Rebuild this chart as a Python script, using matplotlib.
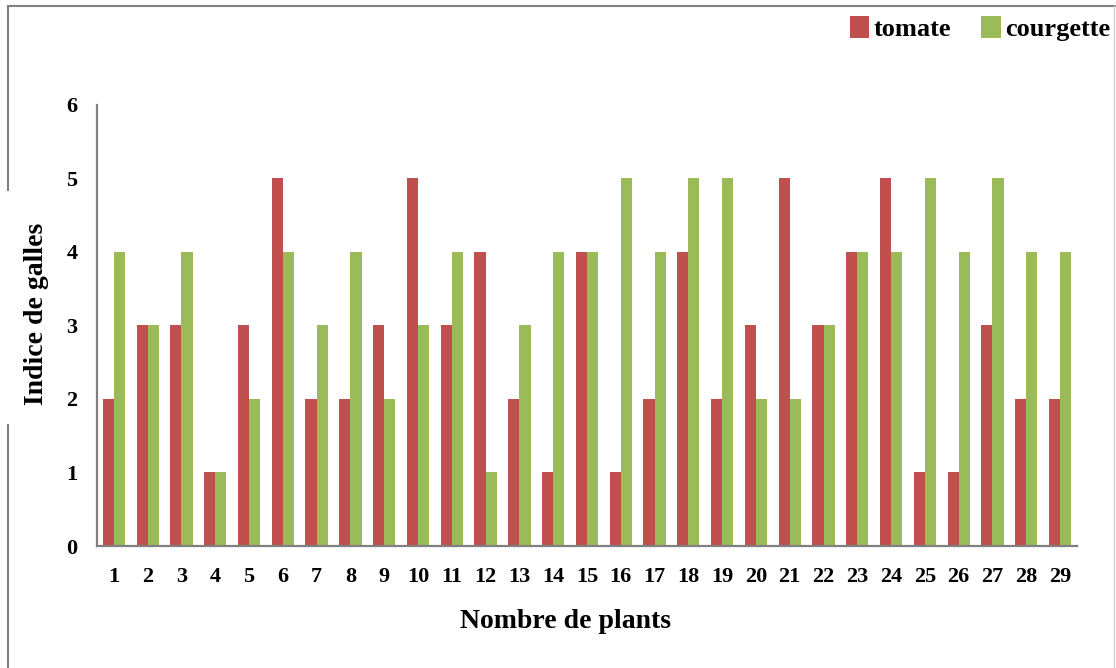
import matplotlib
matplotlib.use('Agg')

import matplotlib.pyplot as plt
from matplotlib.lines import Line2D
import numpy as np

# data
plants = list(range(1, 30))
tomate = [2, 3, 3, 1, 3, 5, 2, 2, 3, 5, 3, 4, 2, 1, 4, 1, 2, 4, 2, 3, 5, 3, 4, 5, 1, 1, 3, 2, 2]
courgette = [4, 3, 4, 1, 2, 4, 3, 4, 2, 3, 4, 1, 3, 4, 4, 5, 4, 5, 5, 2, 2, 3, 4, 4, 5, 4, 5, 4, 4]
y_ticks = [0, 1, 2, 3, 4, 5, 6]

RED = "#C0504D"
GREEN = "#9BBB59"
AXIS = "#808080"

plt.rcParams['font.family'] = ['Liberation Serif', 'DejaVu Serif']

fig = plt.figure(figsize=(11.16, 6.68), dpi=100)
ax = fig.add_axes([0.0869, 0.1826, 0.8781, 0.6604])

x = np.arange(len(plants))
w = 0.33
ax.bar(x - w / 2, tomate, width=w, color=RED, label="tomate")
ax.bar(x + w / 2, courgette, width=w, color=GREEN, label="courgette")

ax.set_xlim(-0.5, len(plants) - 0.5)
ax.set_ylim(0, 6)
ax.set_yticks(y_ticks)
ax.set_xticks(x)
ax.set_xticklabels([str(p) for p in plants])
ax.tick_params(length=0, labelsize=16)
ax.tick_params(axis='y', pad=14)
ax.tick_params(axis='x', pad=15)
for lbl in ax.get_xticklabels() + ax.get_yticklabels():
    lbl.set_fontweight("bold")

for side in ("top", "right"):
    ax.spines[side].set_visible(False)
for side in ("left", "bottom"):
    ax.spines[side].set_color(AXIS)
    ax.spines[side].set_linewidth(1.6)

# labels sit a bit off-centre in the original
ax.set_xlabel("Nombre de plants", fontsize=20, fontweight="bold")
ax.xaxis.set_label_coords(0.478, -0.142)
ax.set_ylabel("Indice de galles", fontsize=20, fontweight="bold")
ax.yaxis.set_label_coords(-0.049, 0.526)

leg = fig.legend(loc="upper right", bbox_to_anchor=(1.016, 1.012), ncol=2,
                 frameon=False, handlelength=0.75, handleheight=0.95,
                 handletextpad=0.15, columnspacing=1.15,
                 prop={"weight": "bold", "size": 19})

# outer frame pieces
fig.add_artist(Line2D([0.0072, 0.0072], [0.991, 0.716], transform=fig.transFigure,
                      color=AXIS, lw=1.5))
fig.add_artist(Line2D([0.0072, 0.0072], [0.364, 0.0], transform=fig.transFigure,
                      color=AXIS, lw=1.5))
fig.add_artist(Line2D([0.0072, 1.0], [0.991, 0.991], transform=fig.transFigure,
                      color=AXIS, lw=1.5))
fig.add_artist(Line2D([0.998, 0.998], [0.991, 0.0], transform=fig.transFigure,
                      color="#d0d0d0", lw=1.0))

fig.savefig("out.png", dpi=100, facecolor="white")
